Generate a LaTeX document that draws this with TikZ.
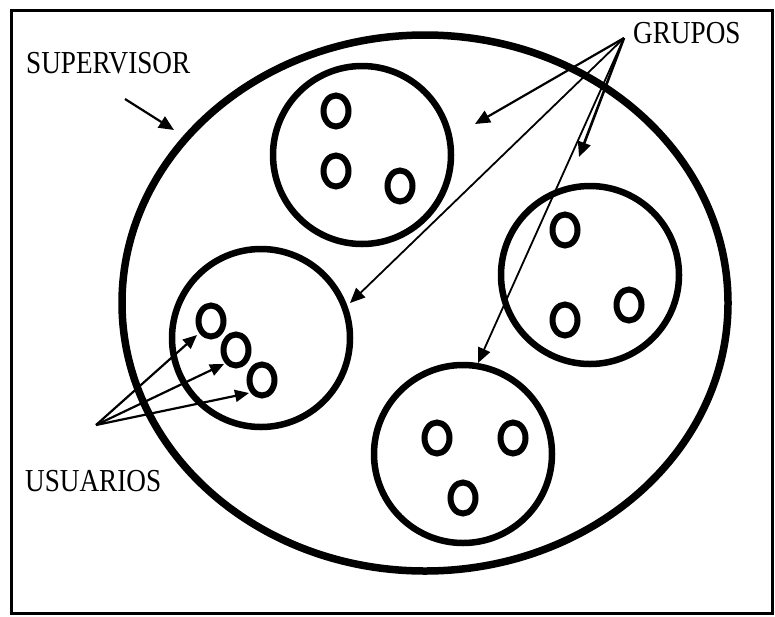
\documentclass[tikz,border=0pt]{standalone}
\usepackage{fontspec}
\setmainfont{Liberation Serif}
\usetikzlibrary{arrows.meta,shapes.geometric}
\newcommand\condtext[1]{\scalebox{0.85}[1]{#1}}
\begin{document}
\begin{tikzpicture}[x=1pt,y=-1pt,
  grp/.style={circle,draw,line width=6.5pt,minimum size=178pt,inner sep=0pt},
  usr/.style={ellipse,draw,line width=6pt,minimum width=25pt,minimum height=31pt,inner sep=0pt},
  lbl/.style={font=\fontsize{32}{32}\selectfont,inner sep=0pt,anchor=base west},
  arr/.style={-{Triangle[length=15pt,width=13pt]},line width=2.2pt},
  uarr/.style={-{Triangle[length=14pt,width=12pt]},line width=2.2pt},
]
\useasboundingbox (0,0) rectangle (775,616);
\draw[line width=3pt] (11,10) rectangle (772,613);
% supervisor
\node[ellipse,draw,line width=7.5pt,minimum width=606pt,minimum height=536pt,inner sep=0pt] (sup) at (425,303) {};
% groups
\node[grp] (g1) at (362,155) {};
\node[grp] (g2) at (590,275) {};
\node[grp] (g3) at (261,338) {};
\node[grp] (g4) at (463,454) {};
% users
\node[usr] (u11) at (336,111) {};
\node[usr] (u12) at (336,171) {};
\node[usr] (u13) at (400,186) {};
\node[usr] (u21) at (565,230) {};
\node[usr] (u22) at (565,320) {};
\node[usr] (u23) at (629,305) {};
\node[usr] (u31) at (211,321) {};
\node[usr] (u32) at (236,350) {};
\node[usr] (u33) at (262,380) {};
\node[usr] (u41) at (437,438) {};
\node[usr] (u42) at (513,438) {};
\node[usr] (u43) at (463,498) {};
% labels
\node[lbl] (tsup) at (26,73) {\condtext{SUPERVISOR}};
\node[lbl] (tgrp) at (633,43) {\condtext{GRUPOS}};
\node[lbl] (tusr) at (25,491) {\condtext{USUARIOS}};
% arrow ends
\coordinate (sa) at (125,99);
\coordinate (sb) at (174,130);
\coordinate (gs) at (624,38);
\coordinate (ga) at (475,124);
\coordinate (gb) at (350,303);
\coordinate (gc) at (579,157);
\coordinate (gd) at (478,363);
\coordinate (us) at (96,425);
\coordinate (ua) at (197,335);
\coordinate (ub) at (224,364);
\coordinate (uc) at (249,393);
% arrows
\draw[arr] (sa) -- (sb);
\draw[arr] (gs) -- (ga);
\draw[arr,line width=1.8pt] (gs) -- (gb);
\draw[arr,line width=2.6pt] (gs) -- (gc);
\draw[arr,line width=1.8pt] (gs) -- (gd);
\draw[uarr] (us) -- (ua);
\draw[uarr] (us) -- (ub);
\draw[uarr] (us) -- (uc);
\end{tikzpicture}
\end{document}
